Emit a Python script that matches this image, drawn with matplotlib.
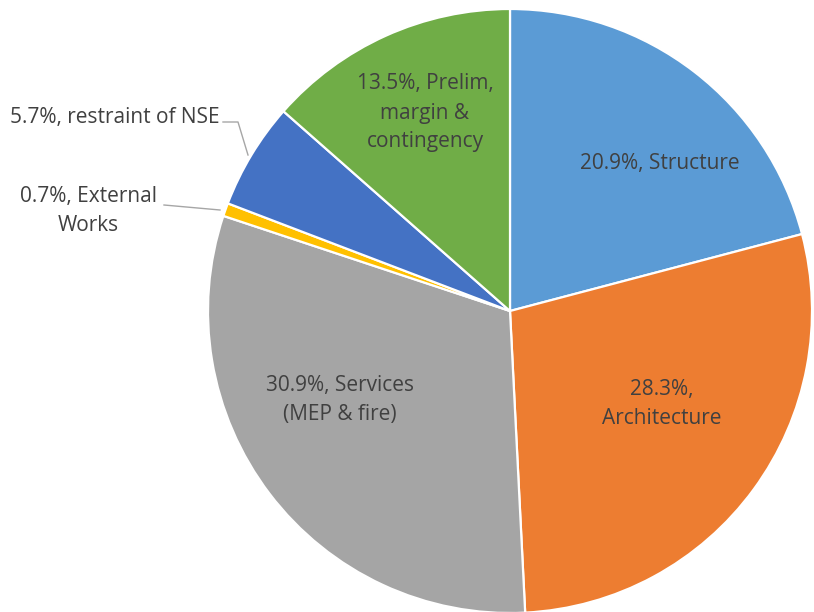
import matplotlib
matplotlib.use("Agg")
import matplotlib.pyplot as plt

categories = ["Structure", "Architecture", "Services (MEP & fire)", "External Works",
              "restraint of NSE", "Prelim, margin & contingency"]
values = [20.9, 28.3, 30.9, 0.7, 5.7, 13.5]
labels = ["20.9%, Structure", "28.3%,\nArchitecture", "30.9%, Services\n(MEP & fire)",
          "0.7%, External\nWorks", "5.7%, restraint of NSE", "13.5%, Prelim,\nmargin &\ncontingency"]
colors = ["#5B9BD5", "#ED7D31", "#A5A5A5", "#FFC000", "#4472C4", "#70AD47"]

W, H = 814, 612
fig = plt.figure(figsize=(W / 100, H / 100), dpi=100)
ax = fig.add_axes([0, 0, 1, 1])

cx, cy, r = 510, H - 311, 302
ax.pie(values, colors=colors, startangle=90, counterclock=False,
       center=(cx, cy), radius=r, frame=True,
       wedgeprops=dict(edgecolor="white", linewidth=1.6))
ax.set_xlim(0, W)
ax.set_ylim(0, H)
ax.axis("off")

tc = "#404040"
fs = 15
font = "Open Sans"
kw = dict(color=tc, fontsize=fs, family=font, ha="center", va="center", linespacing=1.5)
ax.text(660, H - 163, labels[0], **kw)
ax.text(662, H - 404, labels[1], **kw)
ax.text(340, H - 400, labels[2], **kw)
ax.text(88, H - 211, labels[3], **kw)
ax.text(115, H - 117, labels[4], **kw)
ax.text(425, H - 113, labels[5], **kw)

lc = "#A6A6A6"
ax.plot([223, 238, 248], [H - 122, H - 122, H - 155], color=lc, lw=1)
ax.plot([164, 220], [H - 205, H - 210], color=lc, lw=1)

fig.savefig("out.png", dpi=100)
